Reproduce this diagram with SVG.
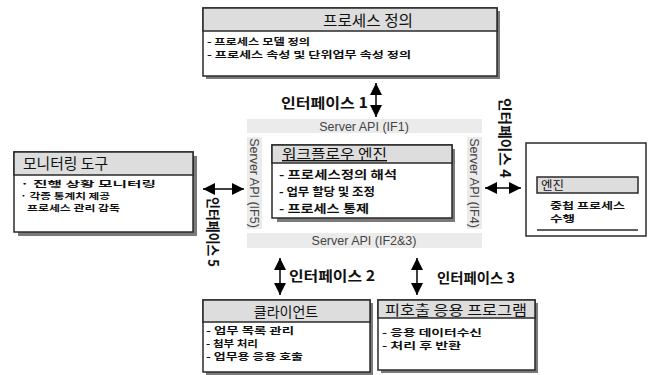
<svg xmlns="http://www.w3.org/2000/svg" width="653" height="375" viewBox="0 0 653 375">
<style>
.bg{fill:#fff}
.box{fill:#fff;stroke:#2a2a2a;stroke-width:1.5}
.shadow{fill:#7a7a7a}
.hdr{fill:#dddddd;stroke:#2a2a2a;stroke-width:1.5}
.band{fill:#ebebeb}
.t{font-family:"Noto Sans CJK KR","Noto Sans",sans-serif;fill:#111}
.b{font-weight:bold}
.api{font-family:"Liberation Sans","Noto Sans CJK KR",sans-serif;font-size:12.5px;fill:#444}
.arr{stroke:#000;stroke-width:1.5;fill:none;marker-start:url(#ah);marker-end:url(#ah)}
</style>
<defs>
<marker id="ah" viewBox="0 0 12 12" refX="12" refY="6" markerWidth="12" markerHeight="12" markerUnits="userSpaceOnUse" orient="auto-start-reverse">
<path d="M0,0 L12,6 L0,12 Z" fill="#000"/>
</marker>
</defs>
<rect class="bg" x="0" y="0" width="653" height="375"/>

<g id="process-definition">
<rect class="shadow" x="206" y="11" width="294" height="68"/>
<rect class="box" x="203" y="8" width="294" height="68"/>
<rect class="hdr" x="203" y="8" width="294" height="23"/>
<text class="t" x="323" y="26" font-size="15" textLength="90" lengthAdjust="spacingAndGlyphs">프로세스 정의</text>
<text class="t b" x="207" y="45" font-size="9.5" textLength="103" lengthAdjust="spacingAndGlyphs">- 프로세스 모델 정의</text>
<text class="t b" x="207" y="58" font-size="9.5" textLength="204" lengthAdjust="spacingAndGlyphs">- 프로세스 속성 및 단위업무 속성 정의</text>
</g>

<g id="server-api">
<rect class="band" x="247" y="119" width="235" height="14"/>
<text class="api" x="364" y="130.5" text-anchor="middle">Server API (IF1)</text>
<rect class="band" x="247" y="137" width="15" height="92"/>
<text class="api" transform="translate(254.5,183) rotate(90)" x="0" y="4.5" text-anchor="middle">Server API (IF5)</text>
<rect class="band" x="467" y="137" width="15" height="92"/>
<text class="api" transform="translate(474.5,183) rotate(90)" x="0" y="4.5" text-anchor="middle">Server API (IF4)</text>
<rect class="band" x="247" y="233" width="235" height="15"/>
<text class="api" x="364" y="245" text-anchor="middle">Server API (IF2&amp;3)</text>
</g>

<g id="workflow-engine">
<rect class="shadow" x="277" y="149" width="178" height="73"/>
<rect class="box" x="272" y="145" width="180" height="73"/>
<rect class="hdr" x="272" y="145" width="180" height="18"/>
<text class="t" x="282" y="159" font-size="14" text-decoration="underline" textLength="105" lengthAdjust="spacingAndGlyphs">워크플로우 엔진</text>
<text class="t b" x="279" y="179" font-size="11.5" textLength="118" lengthAdjust="spacingAndGlyphs">- 프로세스정의 해석</text>
<text class="t b" x="279" y="196" font-size="11.5" textLength="96" lengthAdjust="spacingAndGlyphs">- 업무 할당 및 조정</text>
<text class="t b" x="279" y="213" font-size="11.5" textLength="90" lengthAdjust="spacingAndGlyphs">- 프로세스 통제</text>
</g>

<g id="monitoring-tool">
<rect class="shadow" x="18" y="156" width="179" height="80"/>
<rect class="box" x="14" y="152" width="179" height="80"/>
<rect class="hdr" x="14" y="152" width="179" height="23"/>
<text class="t" x="23" y="169" font-size="15" textLength="85" lengthAdjust="spacingAndGlyphs">모니터링 도구</text>
<text class="t b" x="20" y="187" font-size="8.5" textLength="136" lengthAdjust="spacingAndGlyphs">· 진행 상황 모니터링</text>
<text class="t b" x="20" y="199" font-size="8.5" textLength="90" lengthAdjust="spacingAndGlyphs">· 각종 통계치 제공</text>
<text class="t b" x="27" y="211" font-size="8.5" textLength="93" lengthAdjust="spacingAndGlyphs">프로세스 관리 감독</text>
</g>

<g id="other-engine">
<rect class="box" x="526" y="143" width="120" height="93" stroke-width="1.2"/>
<rect class="hdr" x="537" y="177" width="101" height="16"/>
<line x1="537" y1="230" x2="638" y2="230" stroke="#2a2a2a" stroke-width="1.5"/>
<text class="t" x="541" y="190" font-size="12.5">엔진</text>
<text class="t b" x="550" y="209" font-size="9.5" textLength="75" lengthAdjust="spacingAndGlyphs">중첩 프로세스</text>
<text class="t b" x="550" y="222" font-size="9.5" textLength="25" lengthAdjust="spacingAndGlyphs">수행</text>
</g>

<g id="client">
<rect class="shadow" x="206" y="303" width="167" height="72"/>
<rect class="box" x="203" y="300" width="167" height="72"/>
<rect class="hdr" x="203" y="300" width="167" height="22"/>
<text class="t" x="286" y="317" font-size="14" text-anchor="middle">클라이언트</text>
<text class="t b" x="206" y="334" font-size="9.5" textLength="88" lengthAdjust="spacingAndGlyphs">- 업무 목록 관리</text>
<text class="t b" x="206" y="347" font-size="9.5" textLength="52" lengthAdjust="spacingAndGlyphs">- 첨부 처리</text>
<text class="t b" x="206" y="360" font-size="9.5" textLength="97" lengthAdjust="spacingAndGlyphs">- 업무용 응용 호출</text>
</g>

<g id="called-application">
<rect class="shadow" x="381" y="303" width="157" height="70"/>
<rect class="box" x="378" y="300" width="157" height="70"/>
<rect class="hdr" x="378" y="300" width="157" height="18"/>
<text class="t" x="385" y="315" font-size="13.5" textLength="142" lengthAdjust="spacingAndGlyphs">피호출 응용 프로그램</text>
<text class="t b" x="382" y="336" font-size="9.5" textLength="100" lengthAdjust="spacingAndGlyphs">- 응용 데이터수신</text>
<text class="t b" x="382" y="349" font-size="9.5" textLength="79" lengthAdjust="spacingAndGlyphs">-  처리 후 반환</text>
</g>

<g id="connectors">
<line class="arr" x1="376" y1="83" x2="376" y2="117"/>
<line class="arr" x1="280" y1="258" x2="280" y2="295"/>
<line class="arr" x1="417" y1="258" x2="417" y2="295"/>
<line class="arr" x1="485" y1="188" x2="521" y2="188"/>
<line class="arr" x1="203" y1="189" x2="244" y2="189"/>
<text class="t b" x="281" y="108" font-size="14" textLength="87" lengthAdjust="spacingAndGlyphs">인터페이스 1</text>
<text class="t b" x="289" y="281" font-size="14" textLength="86" lengthAdjust="spacingAndGlyphs">인터페이스 2</text>
<text class="t b" x="437" y="283" font-size="14" textLength="78" lengthAdjust="spacingAndGlyphs">인터페이스 3</text>
<text class="t b" transform="translate(505,98) rotate(90)" x="0" y="5" font-size="14" textLength="80" lengthAdjust="spacingAndGlyphs">인터페이스 4</text>
<text class="t b" transform="translate(213,197) rotate(90)" x="0" y="5" font-size="14" textLength="70" lengthAdjust="spacingAndGlyphs">인터페이스 5</text>
</g>
</svg>
